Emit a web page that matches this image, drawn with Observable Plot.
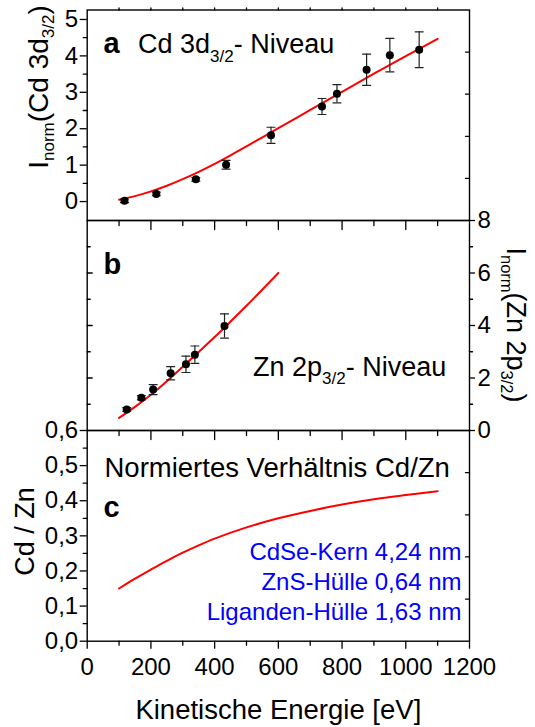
<!DOCTYPE html>
<html>
<head>
<meta charset="utf-8">
<script src="https://cdn.jsdelivr.net/npm/d3@7"></script>
<script src="https://cdn.jsdelivr.net/npm/@observablehq/plot@0.6"></script>
<style>
  body { margin: 0; background: #fff; }
  #chart { position: relative; width: 535px; height: 727px; font-family: "Liberation Sans", Arial, sans-serif; }
  #chart svg { position: absolute; left: 0; overflow: visible; }
</style>
</head>
<body>
<div id="chart"></div>
<script>
// ---------- data ----------
// Panel a: Cd 3d3/2 level
const energyA = [117, 217, 341, 436, 577, 737, 784, 877, 950, 1042];
const intensityA = [0.02, 0.21, 0.61, 1.01, 1.82, 2.61, 2.96, 3.62, 4.02, 4.17];
const errorA = [0.05, 0.05, 0.05, 0.12, 0.22, 0.22, 0.25, 0.43, 0.46, 0.49];
const fitEnergyA = [100, 150, 200, 250, 300, 350, 400, 450, 500, 550, 600, 700, 800, 900, 1000, 1100];
const fitA = [0.05, 0.15, 0.28, 0.435, 0.615, 0.815, 1.035, 1.27, 1.515, 1.765, 2.015, 2.515, 3.015, 3.51, 3.995, 4.47];

// Panel b: Zn 2p3/2 level
const energyB = [124, 170, 207, 262, 310, 338, 431];
const intensityB = [0.80, 1.25, 1.56, 2.18, 2.52, 2.89, 3.98];
const errorB = [0.07, 0.08, 0.19, 0.25, 0.31, 0.33, 0.46];
const fitEnergyB = [100, 150, 200, 250, 300, 350, 400, 450, 500, 550, 600];
const fitB = [0.48, 0.90, 1.36, 1.88, 2.43, 2.99, 3.56, 4.15, 4.75, 5.37, 6.00];

// Panel c: normalized ratio Cd/Zn
const fitEnergyC = [100, 150, 200, 250, 300, 350, 400, 500, 600, 700, 800, 900, 1000, 1100];
const ratioC = [0.150, 0.178, 0.204, 0.229, 0.252, 0.273, 0.292, 0.324, 0.350, 0.371, 0.389, 0.404, 0.416, 0.427];

// ticks
const xTicks = [0, 200, 400, 600, 800, 1000, 1200];
const xMinor = [100, 300, 500, 700, 900, 1100];
const xInnerMajor = [200, 400, 600, 800, 1000];
const xAll = [100, 200, 300, 400, 500, 600, 700, 800, 900, 1000, 1100];
const yTicksA = [0, 1, 2, 3, 4, 5];
const yMinorA = [0.5, 1.5, 2.5, 3.5, 4.5];
const yTicksB = [0, 2, 4, 6, 8];
const yInnerB = [2, 4, 6];
const yMinorB = [1, 3, 5, 7];
const yTicksC = [0, 0.1, 0.2, 0.3, 0.4, 0.5, 0.6];
const yMinorC = [0.05, 0.15, 0.25, 0.35, 0.45, 0.55];
const mirrorDivisions = [1, 2, 3, 4]; // of 5 equal divisions on the unlabeled right axes

const domainA = [-0.52, 5.26];
const domainB = [0, 8];
const domainC = [0, 0.6];

const infoLines = ["CdSe-Kern 4,24 nm", "ZnS-Hülle 0,64 nm", "Liganden-Hülle 1,63 nm"];

// ---------- helpers ----------
const W = 535, ML = 86.7, MR = 66;
const FONT = "'Liberation Sans', Arial, Helvetica, sans-serif";
const seg = {draw(ctx, l) { ctx.moveTo(0, 0); ctx.lineTo(0, -l); }};

function ticks(values, channel, frameAnchor, rotate, length, sw = 1.3) {
  return Plot.vector(values, {
    [channel]: d => d, frameAnchor, rotate, length, anchor: "start",
    shape: seg, stroke: "#000", strokeWidth: sw, fill: "none"
  });
}
function mirror(domain) {
  return mirrorDivisions.map(k => domain[0] + (domain[1] - domain[0]) * k / 5);
}
function errorBars(data, color = "#222") {
  return [
    Plot.ruleX(data, {x: "e", y1: d => d.v - d.err, y2: d => d.v + d.err, stroke: color, strokeWidth: 1.2}),
    Plot.vector(data, {x: "e", y: d => d.v + d.err, rotate: 90, length: 8, anchor: "middle", shape: seg, stroke: color, strokeWidth: 1.2, fill: "none"}),
    Plot.vector(data, {x: "e", y: d => d.v - d.err, rotate: 90, length: 8, anchor: "middle", shape: seg, stroke: color, strokeWidth: 1.2, fill: "none"})
  ];
}
function panel(h, mt, mb, yDomain, marks) {
  return Plot.plot({
    width: W, height: h, marginLeft: ML, marginRight: MR, marginTop: mt, marginBottom: mb,
    x: {domain: [0, 1200], axis: null},
    y: {domain: yDomain, axis: null},
    style: {fontFamily: FONT, overflow: "visible", background: "transparent", color: "#000"},
    marks
  });
}
function richText(svg, x, y, rotate, parts, size, subSize, shift, anchor = "middle") {
  const t = d3.select(svg).append("text")
    .attr("transform", `translate(${x},${y}) rotate(${rotate})`)
    .attr("text-anchor", anchor)
    .attr("font-size", size)
    .attr("font-family", FONT)
    .attr("fill", "#000");
  let down = false;
  for (const [s, sub] of parts) {
    const ts = t.append("tspan").text(s);
    if (sub) { ts.attr("font-size", subSize); if (!down) { ts.attr("dy", shift); down = true; } }
    else if (down) { ts.attr("dy", -shift); down = false; }
  }
}

const dataA = energyA.map((e, i) => ({e, v: intensityA[i], err: errorA[i]}));
const dataB = energyB.map((e, i) => ({e, v: intensityB[i], err: errorB[i]}));
const lineA = fitEnergyA.map((e, i) => ({e, v: fitA[i]}));
const lineB = fitEnergyB.map((e, i) => ({e, v: fitB[i]}));
const lineC = fitEnergyC.map((e, i) => ({e, v: ratioC[i]}));

const chart = document.getElementById("chart");
const lbl = (s, o) => Plot.text([s], {text: d => d, lineAnchor: "bottom", textAnchor: "start", fill: "#000", ...o});

// ---------- panel a ----------
const svgA = panel(220, 9.5, 0, domainA, [
  Plot.frame({stroke: "#000", strokeWidth: 1.4}),
  Plot.axisY({ticks: yTicksA, anchor: "left", tickSize: 7, tickPadding: 2, fontSize: 24, label: null, tickFormat: d => String(d), strokeWidth: 1.3}),
  ticks(yMinorA, "y", "left", -90, 4),
  ticks(mirror(domainA), "y", "right", -90, 4),
  ticks(xAll, "x", "top", 0, 2),
  Plot.line(lineA, {x: "e", y: "v", stroke: "#ff0000", strokeWidth: 2, curve: "catmull-rom"}),
  ...errorBars(dataA),
  Plot.dot(dataA, {x: "e", y: "v", r: 4, fill: "#000", stroke: "none"}),
  lbl("a", {frameAnchor: "top-left", dx: 16.3, dy: 42.5, fontSize: 29, fontWeight: "bold"})
]);
svgA.style.top = "0px";
chart.appendChild(svgA);
richText(svgA, 138, 53, 0, [["Cd 3d"], ["3/2", true], ["- Niveau"]], 27, 17, 9, "start");
richText(svgA, 48, 87, -90, [["I"], ["norm", true], ["(Cd 3d"], ["3/2", true], [")"]], 28, 17, 6);

// ---------- panel b ----------
const svgB = panel(210, 0, 0, domainB, [
  Plot.frame({stroke: "#000", strokeWidth: 1.4}),
  Plot.axisY({ticks: yTicksB, anchor: "right", tickSize: 5, tickPadding: 3, fontSize: 24, label: null, tickFormat: d => String(d), strokeWidth: 1.3}),
  ticks(yMinorB, "y", "right", 90, 3),
  ticks(yInnerB, "y", "left", 90, 5),
  ticks(yMinorB, "y", "left", 90, 3),
  ticks(xInnerMajor, "x", "top", 180, 9),
  ticks(xMinor, "x", "top", 180, 5),
  Plot.line(lineB, {x: "e", y: "v", stroke: "#ff0000", strokeWidth: 2, curve: "catmull-rom"}),
  ...errorBars(dataB),
  Plot.dot(dataB, {x: "e", y: "v", r: 4, fill: "#000", stroke: "none"}),
  lbl("b", {frameAnchor: "top-left", dx: 16.3, dy: 53, fontSize: 29, fontWeight: "bold"})
]);
svgB.style.top = "220px";
chart.appendChild(svgB);
richText(svgB, 253, 155.7, 0, [["Zn 2p"], ["3/2", true], ["- Niveau"]], 27, 17, 8, "start");
richText(svgB, 507, 105, 90, [["I"], ["norm", true], ["(Zn 2p"], ["3/2", true], [")"]], 27, 16.5, 6);

// ---------- panel c ----------
const svgC = panel(297, 0, 86.3, domainC, [
  Plot.frame({stroke: "#000", strokeWidth: 1.4}),
  Plot.axisY({ticks: yTicksC, anchor: "left", tickSize: 7, tickPadding: 2, fontSize: 24, label: null, tickFormat: d => d.toFixed(1).replace(".", ","), strokeWidth: 1.3}),
  ticks(yMinorC, "y", "left", -90, 4),
  ticks(mirror(domainC), "y", "right", -90, 4),
  ticks(xInnerMajor, "x", "top", 180, 9),
  ticks(xMinor, "x", "top", 180, 5),
  Plot.axisX({ticks: xTicks, anchor: "bottom", tickSize: 8, tickPadding: 9, fontSize: 24, label: null, tickFormat: d => String(d), strokeWidth: 1.3}),
  ticks(xMinor, "x", "bottom", 180, 4),
  Plot.line(lineC, {x: "e", y: "v", stroke: "#ff0000", strokeWidth: 2, curve: "catmull-rom"}),
  lbl("Normiertes Verhältnis Cd/Zn", {frameAnchor: "top-left", dx: 17.3, dy: 46.7, fontSize: 27.5}),
  lbl("c", {frameAnchor: "top-left", dx: 16.3, dy: 86.7, fontSize: 29, fontWeight: "bold"}),
  Plot.text([infoLines.join("\n")], {text: d => d, frameAnchor: "top-right", dx: -8, dy: 189, lineAnchor: "bottom", textAnchor: "end", lineHeight: 1.244, fontSize: 24, fill: "#0000ff"}),
  Plot.text(["Cd / Zn"], {text: d => d, frameAnchor: "left", dx: -52.7, dy: -4.3, rotate: -90, lineAnchor: "bottom", textAnchor: "middle", fontSize: 27, fill: "#000"}),
  Plot.text(["Kinetische Energie [eV]"], {text: d => d, frameAnchor: "bottom", dy: 77.3, lineAnchor: "bottom", textAnchor: "middle", fontSize: 27.5, fill: "#000"})
]);
svgC.style.top = "430px";
chart.appendChild(svgC);
</script>
</body>
</html>
